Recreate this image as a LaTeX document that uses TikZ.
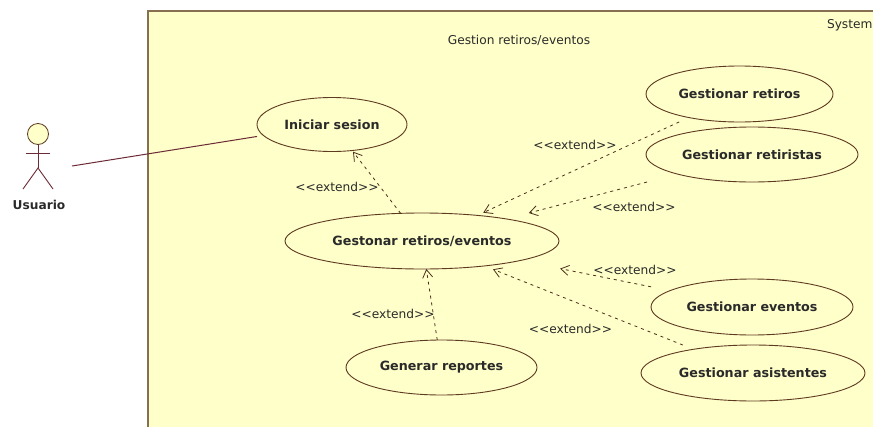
\documentclass[tikz,border=0pt]{standalone}
\usepackage{fontspec}
\setmainfont{DejaVu Sans}
\usetikzlibrary{arrows.meta,shapes.geometric}
\definecolor{sysfill}{HTML}{FFFFC9}
\definecolor{sysline}{HTML}{86704F}
\definecolor{ucline}{HTML}{5E3A22}
\definecolor{assoc}{HTML}{6B2A35}
\definecolor{txt}{HTML}{2A2A2A}
\newcommand{\ext}{<{}<extend>{}>}
\tikzset{
  usecase/.style={ellipse,draw=ucline,line width=0.9pt,inner sep=0pt,outer sep=0pt,text=txt,
    font=\fontsize{12.7}{15}\selectfont\bfseries},
  uctext/.style={yshift=-1.5pt},
  plain/.style={inner sep=0pt,outer sep=0pt,text=txt,font=\fontsize{12.2}{15}\selectfont},
  extendline/.style={line width=0.8pt,draw=ucline!80!black,dash pattern=on 3pt off 4pt,
    -{Straight Barb[length=8pt,width=10pt,line width=0.8pt]}},
  actorline/.style={line width=0.9pt,draw=assoc}
}
\begin{document}
\begin{tikzpicture}[x=1pt,y=-1pt]
\useasboundingbox (0,0) rectangle (873,426);
\clip (0,0) rectangle (873,426);
\path[fill=sysfill,draw=sysline,line width=1.5pt] (148,11) rectangle (885,440);
\node[plain] (title) at (519,40) {Gestion retiros/eventos};
\node[plain,anchor=east] (system) at (872.5,25) {System};
% use cases
\node[usecase,minimum width=150pt,minimum height=54pt] (iniciar) at (332,124.5) {\raisebox{-1.5pt}{Iniciar sesion}};
\node[usecase,minimum width=274pt,minimum height=56pt] (gest) at (422,241) {\raisebox{-1.5pt}{Gestonar retiros/eventos}};
\node[usecase,minimum width=191pt,minimum height=55pt] (reportes) at (441.5,367.5) {\raisebox{-1.5pt}{Generar reportes}};
\node[usecase,minimum width=187pt,minimum height=56pt] (retiros) at (739.5,94) {\raisebox{-1.5pt}{Gestionar retiros}};
\node[usecase,minimum width=212pt,minimum height=55pt] (retiristas) at (752,154.5) {\raisebox{-1.5pt}{Gestionar retiristas}};
\node[usecase,minimum width=202pt,minimum height=56pt] (eventos) at (752,307) {\raisebox{-1.5pt}{Gestionar eventos}};
\node[usecase,minimum width=224pt,minimum height=56pt] (asistentes) at (753,373) {\raisebox{-1.5pt}{Gestionar asistentes}};
% actor
\node[circle,draw=ucline,fill=sysfill,line width=0.8pt,minimum size=21pt,inner sep=0pt,outer sep=0pt] (head) at (38,134) {};
\coordinate (hip) at (38,168);
\coordinate (armL) at (26,153);
\coordinate (armR) at (50,153);
\coordinate (legL) at (23,189);
\coordinate (legR) at (53,189);
\draw[actorline] (head.south) -- (hip);
\draw[actorline] (armL) -- (armR);
\draw[actorline] (legL) -- (hip) -- (legR);
\node[plain,font=\fontsize{12.2}{15}\selectfont\bfseries] (usuario) at (39,204.5) {Usuario};
% association
\coordinate (actorend) at (72,166);
\draw[actorline,line width=1pt,shorten >=6.5pt] (actorend) -- (iniciar);
% extends
\draw[extendline,shorten >=1.5pt] (gest) -- (iniciar);
\draw[extendline,shorten <=10.5pt,shorten >=6.5pt] (retiros) -- (gest);
\draw[extendline,shorten <=31.4pt,shorten >=23.3pt] (retiristas) -- (gest);
\draw[extendline,shorten <=19.4pt,shorten >=41pt] (eventos) -- (gest);
\draw[extendline,shorten <=11.5pt,shorten >=9.2pt] (asistentes) -- (gest);
\draw[extendline] (reportes) -- (gest);
% labels
\node[plain] (l1) at (337,187) {\ext};
\node[plain] (l2) at (575,145) {\ext};
\node[plain] (l3) at (634,207) {\ext};
\node[plain] (l4) at (635,270) {\ext};
\node[plain] (l5) at (570.5,329) {\ext};
\node[plain] (l6) at (393,314) {\ext};
\end{tikzpicture}
\end{document}
